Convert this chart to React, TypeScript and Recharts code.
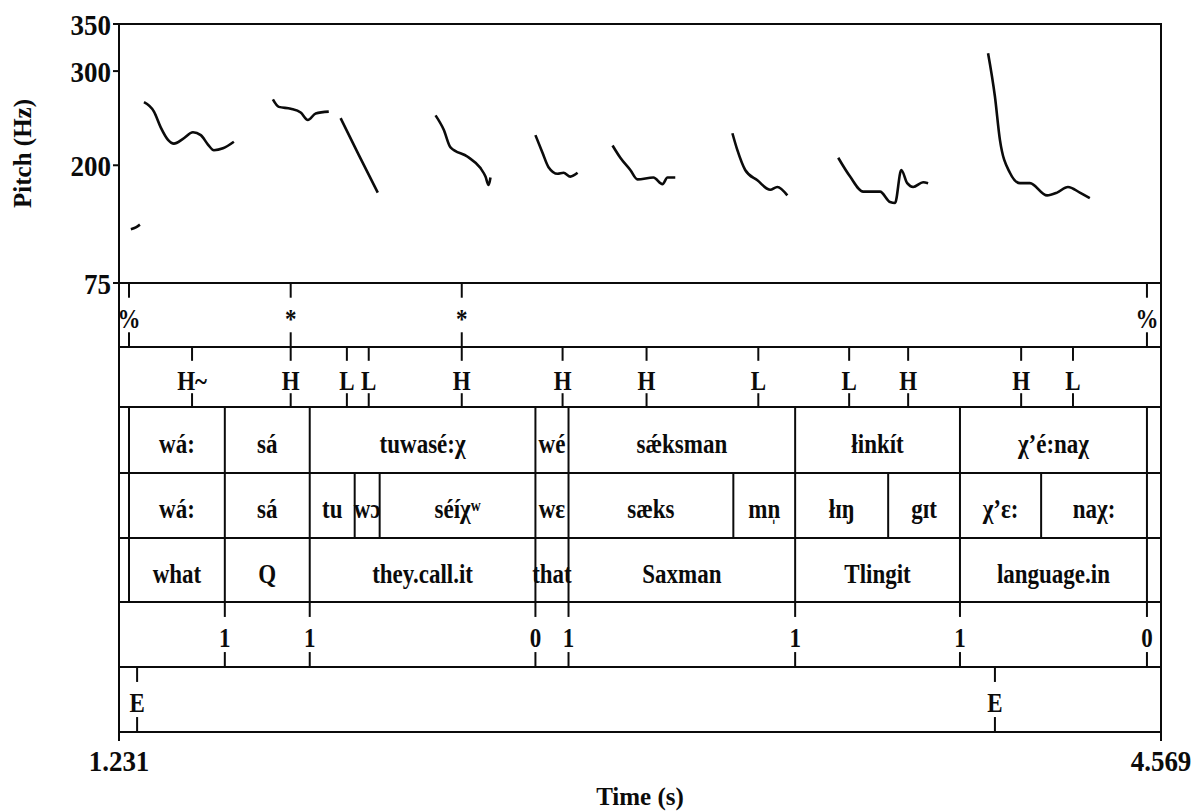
import React from 'react'
import { ComposedChart, LineChart, Line, Scatter, XAxis, YAxis, ReferenceLine, ReferenceArea, Label } from 'recharts'

const T_MIN = 1.231
const T_MAX = 4.569
const FONT = "'Liberation Serif', 'Times New Roman', serif"
const INK = '#0b0b0b'

const pitchTicks = [75, 200, 300, 350]
const timeTicks = [1.231, 4.569]

// f0 track, one array per voiced stretch: [time (s), pitch (Hz)]
const f0a = [[1.269, 132], [1.285, 134], [1.298, 137]]
const f0b = [[1.311, 267], [1.343, 257], [1.365, 240], [1.388, 227], [1.407, 223], [1.436, 228], [1.468, 235], [1.493, 232], [1.516, 222], [1.535, 216], [1.564, 218], [1.599, 225]]
const f0c = [[1.724, 270], [1.743, 262], [1.781, 260], [1.813, 256], [1.836, 248], [1.861, 255], [1.903, 257]]
const f0d = [[1.941, 250], [1.999, 211], [2.06, 171]]
const f0e = [[2.245, 253], [2.271, 238], [2.293, 219], [2.348, 209], [2.389, 197], [2.405, 188], [2.415, 179], [2.421, 187]]
const f0f = [[2.565, 232], [2.588, 213], [2.607, 198], [2.636, 191], [2.655, 192], [2.677, 188], [2.7, 192]]
const f0g = [[2.812, 221], [2.837, 208], [2.869, 195], [2.892, 185], [2.943, 187], [2.972, 180], [2.988, 187], [3.013, 187]]
const f0h = [[3.196, 234], [3.212, 216], [3.237, 195], [3.276, 184], [3.317, 174], [3.34, 177], [3.372, 168]]
const f0i = [[3.535, 208], [3.573, 188], [3.615, 172], [3.669, 172], [3.701, 161], [3.717, 160], [3.737, 195], [3.756, 181], [3.775, 177], [3.807, 182], [3.823, 181]]
const f0j = [[4.015, 319], [4.037, 273], [4.053, 227], [4.085, 192], [4.117, 181], [4.149, 181], [4.204, 168], [4.236, 171], [4.271, 177], [4.309, 171], [4.341, 165]]

// tiers
const accentTimes = [1.263, 1.781, 2.329, 4.524]
const accentLabels = ['%', '*', '*', '%']
const toneTimes = [1.465, 1.781, 1.961, 2.031, 2.329, 2.652, 2.921, 3.279, 3.57, 3.759, 4.121, 4.287]
const toneLabels = ['H~', 'H', 'L', 'L', 'H', 'H', 'H', 'L', 'L', 'H', 'H', 'L']
const wordBounds = [1.263, 1.57, 1.842, 2.565, 2.671, 3.397, 3.925, 4.524]
const wordLabels = ['wá:', 'sá', 'tuwasé:χ', 'wé', 'sǽksman', 'łinkít', 'χʼé:naχ']
const sylBounds = [1.263, 1.57, 1.842, 1.986, 2.066, 2.565, 2.671, 3.199, 3.397, 3.695, 3.925, 4.185, 4.524]
const sylLabels = ['wá:', 'sá', 'tu', 'wɔ', 'séíχʷ', 'wɛ', 'sæks', 'mn̩', 'łɪŋ', 'gɪt', 'χʼɛ:', 'naχ:']
const glossBounds = [1.263, 1.57, 1.842, 2.565, 2.671, 3.397, 3.925, 4.524]
const glossLabels = ['what', 'Q', 'they.call.it', 'that', 'Saxman', 'Tlingit', 'language.in']
const breakTimes = [1.57, 1.842, 2.565, 2.671, 3.397, 3.925, 4.524]
const breakLabels = ['1', '1', '0', '1', '1', '1', '0']
const edgeTimes = [1.289, 4.037]
const edgeLabels = ['E', 'E']

const tracks = [f0a, f0b, f0c, f0d, f0e, f0f, f0g, f0h, f0i, f0j].map((seg) => seg.map(([t, hz]) => ({ t, hz })))

const W = 1204
const MARGIN_L = 119
const MARGIN_R = 43

function Txt({ x, y, size, k = 1, anchor = 'middle', weight = 700, children }: any) {
  return (
    <text
      transform={`translate(${x},${y}) scale(1,${k})`}
      x={0}
      y={0}
      dy="0.35em"
      textAnchor={anchor}
      fontFamily={FONT}
      fontSize={size}
      fontWeight={weight}
      fill={INK}
    >
      {children}
    </text>
  )
}

const tierLabel = (p: any) => (
  <Txt x={p.cx} y={p.cy + 3} size={23} k={1.18}>
    {p.payload.label}
  </Txt>
)

function Frame() {
  return <ReferenceArea x1={T_MIN} x2={T_MAX} y1={0} y2={1} fill="none" stroke={INK} strokeWidth={2} ifOverflow="visible" />
}

function IntervalTier({ top, height, bounds, labels }: any) {
  const marks = labels.map((label: string, i: number) => ({ t: (bounds[i] + bounds[i + 1]) / 2, y: 0.5, label }))
  return (
    <div style={{ position: 'absolute', left: 0, top: top - 2 }}>
      <ComposedChart width={W} height={height + 4} margin={{ top: 2, right: MARGIN_R, bottom: 2, left: MARGIN_L }}>
        <XAxis type="number" dataKey="t" domain={[T_MIN, T_MAX]} hide />
        <YAxis type="number" dataKey="y" domain={[0, 1]} hide />
        {Frame()}
        {bounds.map((b: number) => (
          <ReferenceLine key={b} x={b} stroke={INK} strokeWidth={2} />
        ))}
        <Scatter data={marks} isAnimationActive={false} shape={tierLabel} />
      </ComposedChart>
    </div>
  )
}

const TimeTick = ({ x, y, payload }: any) => (
  <Txt x={x} y={y + 17} size={27} k={1.12}>
    {payload.value.toFixed(3)}
  </Txt>
)

const TimeTitle = (props: any) => {
  const vb = props.viewBox ?? { x: MARGIN_L, y: 67, width: 1042, height: 80 }
  return (
    <text x={vb.x + vb.width / 2} y={vb.y + 64} dy="0.35em" textAnchor="middle" fontFamily={FONT} fontSize={25} fontWeight={700} fill={INK}>
      Time (s)
    </text>
  )
}

function PointTier({ top, height, times, labels, axis = false }: any) {
  const marks = times.map((t: number, i: number) => ({ t, y: 0.5, label: labels[i] }))
  const axisH = axis ? 80 : 0
  return (
    <div style={{ position: 'absolute', left: 0, top: top - 2 }}>
      <ComposedChart width={W} height={height + 4 + axisH - (axis ? 2 : 0)} margin={{ top: 2, right: MARGIN_R, bottom: axis ? 0 : 2, left: MARGIN_L }}>
        <XAxis
          type="number"
          dataKey="t"
          domain={[T_MIN, T_MAX]}
          hide={!axis}
          height={axisH}
          ticks={timeTicks}
          interval={0}
          tickSize={9}
          axisLine={false}
          tickLine={{ stroke: INK, strokeWidth: 2 }}
          tick={TimeTick}
          label={<Label content={TimeTitle} />}
        />
        <YAxis type="number" dataKey="y" domain={[0, 1]} hide />
        {Frame()}
        {times.map((t: number) => (
          <ReferenceLine key={`a${t}`} segment={[{ x: t, y: 1 }, { x: t, y: 0.77 }]} stroke={INK} strokeWidth={2} />
        ))}
        {times.map((t: number) => (
          <ReferenceLine key={`b${t}`} segment={[{ x: t, y: 0.23 }, { x: t, y: 0 }]} stroke={INK} strokeWidth={2} />
        ))}
        <Scatter data={marks} isAnimationActive={false} shape={tierLabel} />
      </ComposedChart>
    </div>
  )
}

const PitchTick = ({ x, y, payload }: any) => (
  <Txt x={x} y={y} size={27} k={1.12} anchor="end">
    {payload.value}
  </Txt>
)

const PitchTitle = (props: any) => {
  const vb = props.viewBox ?? { x: 59, y: 24, width: 60, height: 259 }
  const cx = vb.x - 37
  const cy = vb.y + vb.height / 2
  return (
    <text transform={`translate(${cx},${cy}) rotate(-90)`} dy="0.35em" textAnchor="middle" fontFamily={FONT} fontSize={25} fontWeight={700} fill={INK}>
      Pitch (Hz)
    </text>
  )
}

export default function App() {
  return (
    <div style={{ position: 'absolute', left: 0, top: 0, width: W, height: 812, background: '#fff', overflow: 'hidden' }}>
      <div style={{ position: 'absolute', left: 0, top: 0 }}>
        <LineChart width={W} height={310} margin={{ top: 24, right: MARGIN_R, bottom: 27, left: 59 }}>
          <XAxis type="number" dataKey="t" domain={[T_MIN, T_MAX]} hide allowDataOverflow />
          <YAxis
            type="number"
            domain={[75, 350]}
            ticks={pitchTicks}
            interval={0}
            width={60}
            tickSize={6}
            axisLine={false}
            tickLine={{ stroke: INK, strokeWidth: 2 }}
            tick={PitchTick}
            label={<Label content={PitchTitle} />}
          />
          <ReferenceArea x1={T_MIN} x2={T_MAX} y1={75} y2={350} fill="none" stroke={INK} strokeWidth={2} ifOverflow="visible" />
          {tracks.map((seg, i) => (
            <Line
              key={i}
              data={seg}
              dataKey="hz"
              type="monotone"
              stroke={INK}
              strokeWidth={2.6}
              dot={false}
              activeDot={false}
              isAnimationActive={false}
            />
          ))}
        </LineChart>
      </div>
      <PointTier top={283} height={64} times={accentTimes} labels={accentLabels} />
      <PointTier top={347} height={60} times={toneTimes} labels={toneLabels} />
      <IntervalTier top={407} height={66} bounds={wordBounds} labels={wordLabels} />
      <IntervalTier top={473} height={65} bounds={sylBounds} labels={sylLabels} />
      <IntervalTier top={538} height={64} bounds={glossBounds} labels={glossLabels} />
      <PointTier top={602} height={65} times={breakTimes} labels={breakLabels} />
      <PointTier top={667} height={65} times={edgeTimes} labels={edgeLabels} axis />
    </div>
  )
}
